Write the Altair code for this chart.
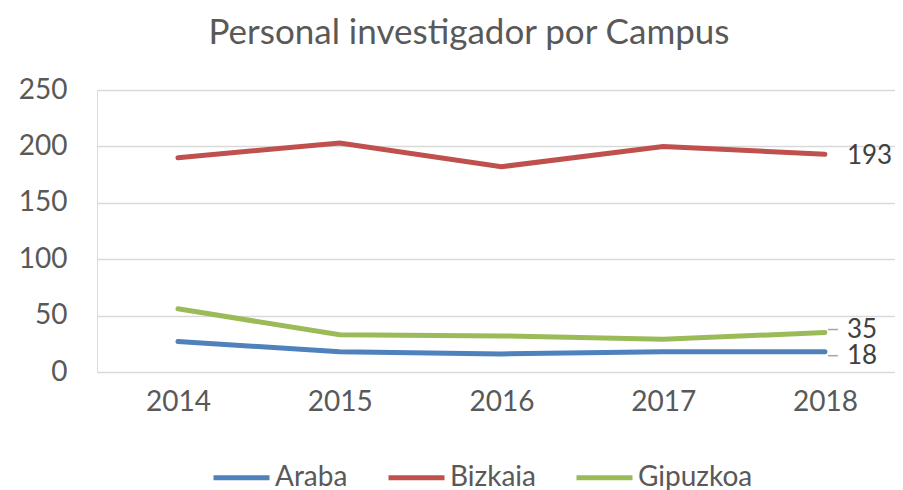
import altair as alt
import pandas as pd

years = ["2014", "2015", "2016", "2017", "2018"]
araba = [27, 18, 16, 18, 18]
bizkaia = [190, 203, 182, 200, 193]
gipuzkoa = [56, 33, 32, 29, 35]
series = ["Araba", "Bizkaia", "Gipuzkoa"]
colors = ["#4F81BD", "#C0504D", "#9BBB59"]

rows = []
for name, vals in zip(series, [araba, bizkaia, gipuzkoa]):
    for y, v in zip(years, vals):
        rows.append({"Año": y, "Campus": name, "Valor": v})
df = pd.DataFrame(rows)

FONT = "Lato"

x = alt.X("Año:O", title=None,
          scale=alt.Scale(type="point", padding=0.4668, align=0.536),
          axis=alt.Axis(labelAngle=0, labelFontSize=28, labelColor="#595959",
                        labelPadding=16, ticks=False, domain=False, grid=False,
                        labelFont=FONT))
y = alt.Y("Valor:Q", title=None,
          scale=alt.Scale(domain=[0, 250], nice=False),
          axis=alt.Axis(values=[0, 50, 100, 150, 200, 250], labelFontSize=28,
                        labelColor="#595959", labelPadding=30, ticks=False,
                        domain=False, gridColor="#d9d9d9", gridWidth=1.5,
                        labelFont=FONT))

color = alt.Color("Campus:N",
                  scale=alt.Scale(domain=series, range=colors),
                  legend=alt.Legend(title=None, orient="none", direction="horizontal",
                                    legendX=114, legendY=357, symbolType="stroke",
                                    symbolSize=3136, symbolStrokeWidth=5,
                                    labelFontSize=28, labelColor="#595959",
                                    labelFont=FONT, labelOffset=3, columnPadding=30))

lines = alt.Chart(df).mark_line(strokeWidth=5, strokeCap="round").encode(
    x=x, y=y, color=color)

last = alt.Chart(df).transform_filter(alt.datum["Año"] == "2018")

def label(name, dy):
    return last.transform_filter(alt.datum.Campus == name).mark_text(
        align="left", baseline="middle", dx=22, dy=dy, fontSize=26,
        color="#404040", font=FONT).encode(
        x=alt.X("Año:O"), y=alt.Y("Valor:Q"), text=alt.Text("Valor:Q"))

def leader(name, dy):
    return last.transform_filter(alt.datum.Campus == name).mark_rule(
        color="#a6a6a6", strokeWidth=1.5, xOffset=3, x2Offset=13, yOffset=dy).encode(
        x=alt.X("Año:O"), x2=alt.X2("Año"), y=alt.Y("Valor:Q"))

chart = alt.layer(
    lines,
    leader("Gipuzkoa", -3), leader("Araba", 4),
    label("Bizkaia", 2), label("Gipuzkoa", -3), label("Araba", 4),
).properties(
    width=798, height=282,
    title=alt.TitleParams("Personal investigador por Campus", fontSize=35,
                          font=FONT, fontWeight="normal", color="#595959",
                          anchor="middle", dx=-27, offset=25),
    padding={"left": 10, "top": 8, "right": 0, "bottom": 0},
).configure_view(stroke=None).configure(background="white")

chart.save("out.html", embed_options={"renderer": "svg", "actions": False})
